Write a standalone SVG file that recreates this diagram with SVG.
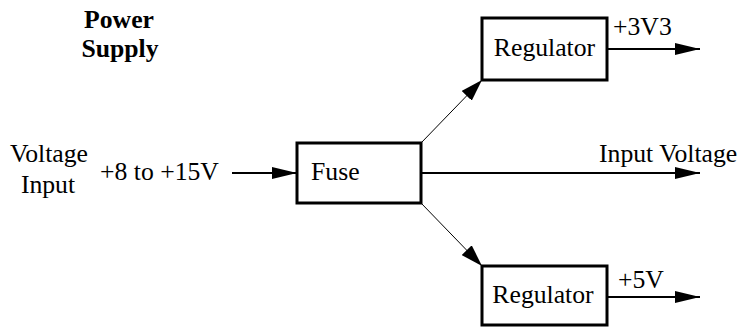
<svg xmlns="http://www.w3.org/2000/svg" width="746" height="327" viewBox="0 0 746 327">
<style>
text{font-family:'Liberation Serif',serif;font-size:25.7px;fill:#000}
.b{font-weight:bold}
.box{fill:#fff;stroke:#000;stroke-width:3}
.thick{stroke:#000;stroke-width:2;fill:none}
.thin{stroke:#000;stroke-width:1;fill:none}
</style>
<defs>
<marker id="ah" markerUnits="userSpaceOnUse" viewBox="0 0 25 12" refX="25" refY="6" markerWidth="25" markerHeight="12" orient="auto">
<path d="M0,0 L25,6 L0,12 Z" fill="#000"/>
</marker>
<marker id="ahs" markerUnits="userSpaceOnUse" viewBox="0 0 22 14" refX="22" refY="7" markerWidth="22" markerHeight="14" orient="auto">
<path d="M0,0 L22,7 L0,14 Z" fill="#000"/>
</marker>
</defs>
<g font-family="Liberation Serif, serif">
<g id="title">
<text class="b" x="119" y="28" text-anchor="middle">Power</text>
<text class="b" x="120" y="57" text-anchor="middle">Supply</text>
</g>
<g id="input-label">
<text x="49" y="162" text-anchor="middle">Voltage</text>
<text x="48" y="193" text-anchor="middle">Input</text>
<text x="100" y="180">+8 to +15V</text>
</g>
<g id="connectors">
<line class="thick" x1="232" y1="173" x2="297" y2="173" marker-end="url(#ah)"/>
<line class="thick" x1="421" y1="173" x2="700" y2="173" marker-end="url(#ah)"/>
<line class="thin" x1="421" y1="143" x2="482" y2="80" marker-end="url(#ahs)"/>
<line class="thin" x1="421" y1="203" x2="482" y2="266" marker-end="url(#ahs)"/>
<line class="thick" x1="607" y1="49" x2="700" y2="49" marker-end="url(#ah)"/>
<line class="thick" x1="607" y1="297" x2="700" y2="297" marker-end="url(#ah)"/>
<text x="599" y="162">Input Voltage</text>
<text x="613" y="35">+3V3</text>
<text x="618" y="288">+5V</text>
</g>
<g id="fuse">
<rect class="box" x="297" y="143" width="124" height="60"/>
<text x="311" y="180">Fuse</text>
</g>
<g id="regulator-top">
<rect class="box" x="482" y="18" width="125" height="62"/>
<text x="544.5" y="56" text-anchor="middle">Regulator</text>
</g>
<g id="regulator-bottom">
<rect class="box" x="482" y="266" width="125" height="59"/>
<text x="543" y="303" text-anchor="middle">Regulator</text>
</g>
</g>
</svg>
